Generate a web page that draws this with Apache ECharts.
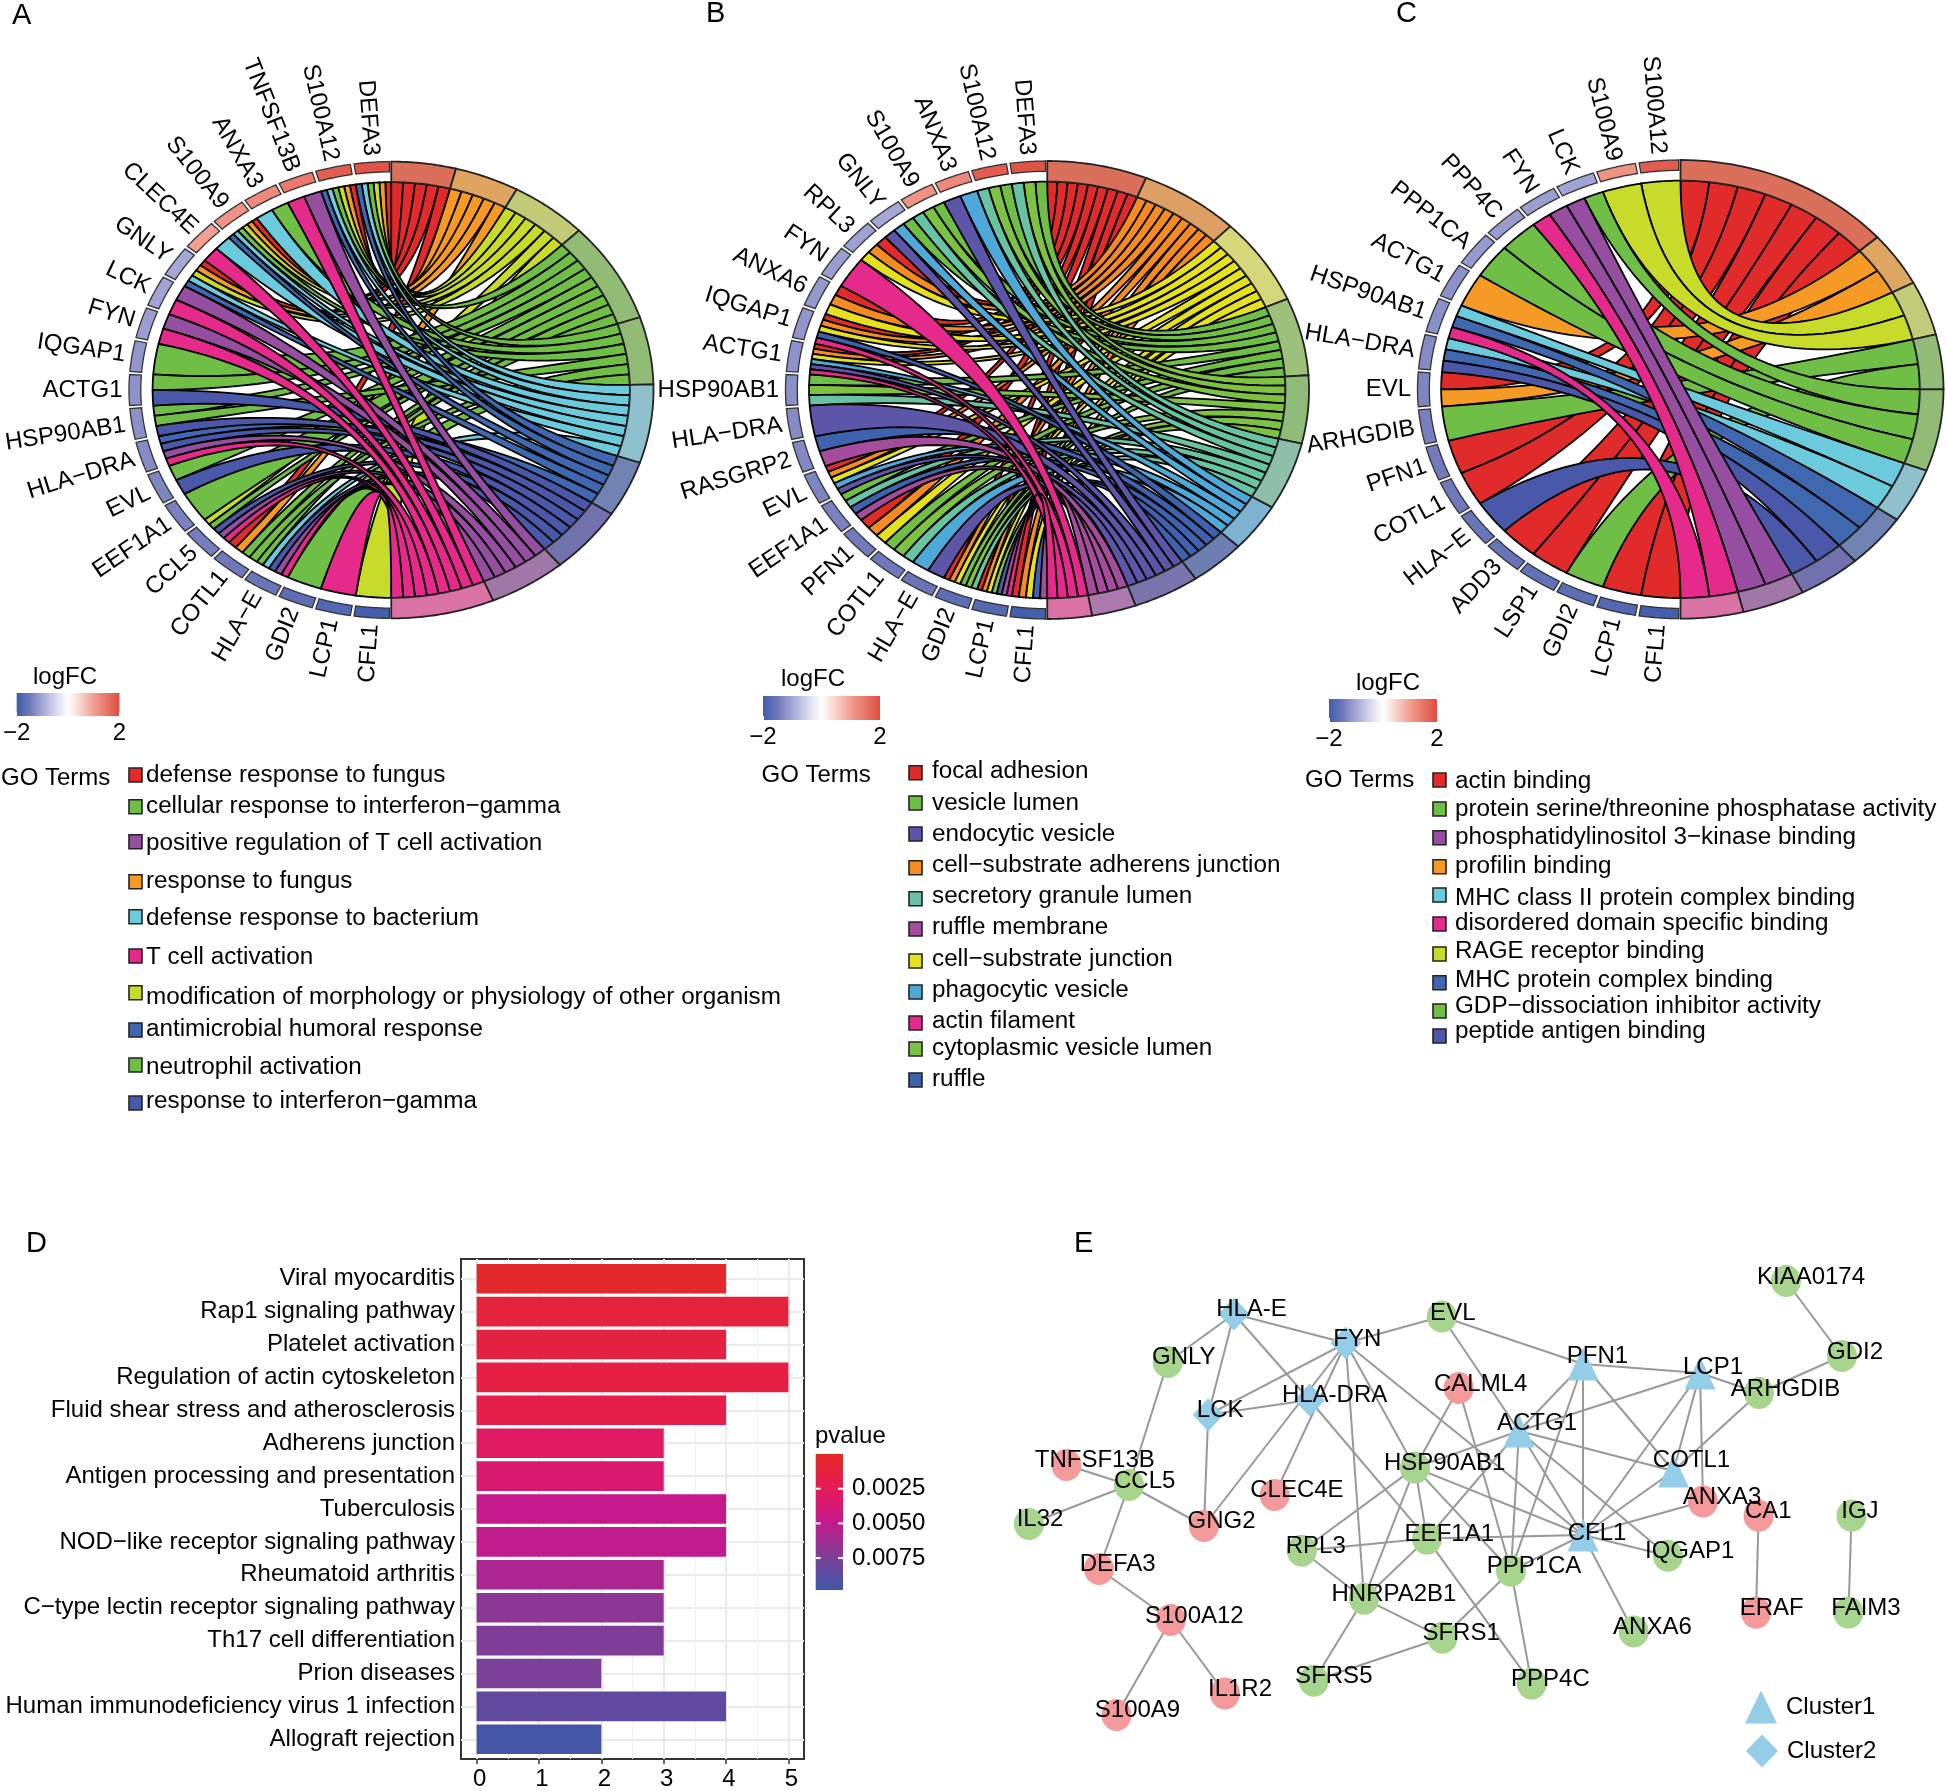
<!DOCTYPE html>
<html><head><meta charset="utf-8">
<style>html,body{margin:0;padding:0;background:#fff}#c{width:1946px;height:1791px}</style>
<script src="https://cdn.jsdelivr.net/npm/echarts@6/dist/echarts.min.js"></script>
</head><body><div id="c"></div>
<script>
const FONT = '"Liberation Sans", Arial, sans-serif';

// ---- gene expression (logFC) ----
const logFCNames = ['CFL1','LCP1','GDI2','LSP1','ADD3','HLA−E','COTL1','PFN1','CCL5','ARHGDIB','EEF1A1','EVL','RASGRP2','HLA−DRA','HSP90AB1','ACTG1','IQGAP1','ANXA6','PPP1CA','PPP4C','FYN','RPL3','LCK','GNLY','CLEC4E','S100A9','ANXA3','TNFSF13B','S100A12','DEFA3'];
const logFCValues = [-1.95,-1.78,-1.68,-1.62,-1.58,-1.55,-1.5,-1.47,-1.45,-1.42,-1.4,-1.35,-1.32,-1.3,-1.25,-1.22,-1.18,-1.16,-1.14,-1.12,-1.1,-1.06,-1.04,-1.0,1.0,1.15,1.25,1.45,1.8,1.9];

// ---- panel A ----
const genesA = ['CFL1','LCP1','GDI2','HLA−E','COTL1','CCL5','EEF1A1','EVL','HLA−DRA','HSP90AB1','ACTG1','IQGAP1','FYN','LCK','GNLY','CLEC4E','S100A9','ANXA3','TNFSF13B','S100A12','DEFA3'];
const codesA = 'ROYGNCBIPT';
const linksA = ['Y','T','N','TPICG','NGOR','TPIGY','G','IG','TPIB','ING','IG','G','TP','TP','CBYOR','TC','BCNYOR','CN','TP','BCGYOR','BCNYOR'];
const colorsA = ['#E12B2B','#F59A24','#C8DB2A','#6FBE46','#6FBE46','#6CCADD','#3F68B0','#4958A8','#964EA0','#E52A8B'];
const ringA   = ['#DB705A','#DEA460','#C2C977','#92BC76','#92BC76','#8FC0CE','#7183B2','#7172AD','#A177A8','#D972A5'];

// ---- panel B ----
const genesB = ['CFL1','LCP1','GDI2','HLA−E','COTL1','PFN1','EEF1A1','EVL','RASGRP2','HLA−DRA','HSP90AB1','ACTG1','IQGAP1','ANXA6','FYN','RPL3','GNLY','S100A9','ANXA3','S100A12','DEFA3'];
const codesB = 'abcdefghijk';
const linksB = ['jhcba','kjhecba','fedcba','ig','fed','cba','jhfd','igcba','jh','i','fed','kigcba','khcba','cba','k','cba','igd','fed','ig','fed','fed'];
const colorsB = ['#E12B2B','#F58B22','#E5E11F','#6FBE46','#7DC242','#68C3A3','#4FA9D8','#3F62AE','#5C55A8','#A64C9C','#E52A8B'];
const ringB   = ['#DB705A','#DD9F63','#D6D67A','#9DC07A','#8FBC78','#8EBFA8','#7DB2D0','#6D7FB0','#7A75AC','#AE79AE','#DA72A3'];

// ---- panel C ----
const genesC = ['CFL1','LCP1','GDI2','LSP1','ADD3','HLA−E','COTL1','PFN1','ARHGDIB','EVL','HLA−DRA','HSP90AB1','ACTG1','PPP1CA','PPP4C','FYN','LCK','S100A9','S100A12'];
const codesC = 'ROYGPCBIUT';
const linksC = ['R','R','G','R','R','I','R','R','G','OR','CBI','TCB','O','P','P','TU','UP','Y','Y'];
const colorsC = ['#E12B2B','#F59A24','#C8DB2A','#6FBE46','#6FBE46','#6CCADD','#3F68B0','#4958A8','#964EA0','#E52A8B'];
const ringC   = ['#DB705A','#DDA763','#C2CB77','#92BC76','#92BC76','#8FC0CE','#7183B2','#7172AD','#A177A8','#D972A5'];

// ---- legends of the chord panels ----
const legendA = ['defense response to fungus','cellular response to interferon−gamma','positive regulation of T cell activation','response to fungus','defense response to bacterium','T cell activation','modification of morphology or physiology of other organism','antimicrobial humoral response','neutrophil activation','response to interferon−gamma'];
const legendAColors = ['#E12B2B','#6FBE46','#964EA0','#F59A24','#6CCADD','#E52A8B','#C8DB2A','#3F68B0','#6FBE46','#4958A8'];
const legendB = ['focal adhesion','vesicle lumen','endocytic vesicle','cell−substrate adherens junction','secretory granule lumen','ruffle membrane','cell−substrate junction','phagocytic vesicle','actin filament','cytoplasmic vesicle lumen','ruffle'];
const legendBColors = ['#E12B2B','#6FBE46','#5C55A8','#F58B22','#68C3A3','#A64C9C','#E5E11F','#4FA9D8','#E52A8B','#7DC242','#3F62AE'];
const legendC = ['actin binding','protein serine/threonine phosphatase activity','phosphatidylinositol 3−kinase binding','profilin binding','MHC class II protein complex binding','disordered domain specific binding','RAGE receptor binding','MHC protein complex binding','GDP−dissociation inhibitor activity','peptide antigen binding'];
const legendCColors = ['#E12B2B','#6FBE46','#964EA0','#F59A24','#6CCADD','#E52A8B','#C8DB2A','#3F68B0','#6FBE46','#4958A8'];

// ---- panel D ----
const pathways = ['Viral myocarditis','Rap1 signaling pathway','Platelet activation','Regulation of actin cytoskeleton','Fluid shear stress and atherosclerosis','Adherens junction','Antigen processing and presentation','Tuberculosis','NOD−like receptor signaling pathway','Rheumatoid arthritis','C−type lectin receptor signaling pathway','Th17 cell differentiation','Prion diseases','Human immunodeficiency virus 1 infection','Allograft rejection'];
const pathwayCounts = [4,5,4,5,4,3,3,4,4,3,3,3,2,4,2];
const pathwayP = [0.0003,0.0012,0.0014,0.0016,0.0019,0.0030,0.0035,0.0048,0.0050,0.0058,0.0069,0.0073,0.0075,0.0085,0.0095];

// ---- panel E ----
const nodeNames = ['HLA-E','FYN','EVL','GNLY','LCK','HLA-DRA','CALML4','PFN1','LCP1','ARHGDIB','GDI2','KIAA0174','ACTG1','COTL1','HSP90AB1','TNFSF13B','CCL5','IL32','CLEC4E','GNG2','ANXA3','CA1','IGJ','CFL1','EEF1A1','RPL3','IQGAP1','PPP1CA','DEFA3','HNRPA2B1','S100A12','ERAF','FAIM3','SFRS1','ANXA6','SFRS5','PPP4C','IL1R2','S100A9'];
const nodeX = [234,345.8,441.8,167.8,208.2,309.6,458.7,583,700,759,842,786,519,673.5,415,66.4,129,29,274.6,204,703,758.6,851.5,583,427,301.8,668,511,99,364,170.8,756,848.5,442.4,633.7,313.8,531.7,225,116.5];
const nodeY = [94,123,96.5,142,194.8,180,168,144,153,173,136,61,211,251,247.6,245,265,304,275,306,281.5,295.7,295.7,315,318.6,330.7,335.8,350.7,349,378.7,400,392.6,392.6,417.7,411.5,460.7,463.6,473.4,495];
// 0 down-regulated, 1 up-regulated, 2 cluster 1, 3 cluster 2
const nodeGroup = [3,3,0,0,3,3,1,2,2,0,0,0,2,2,0,1,0,0,1,1,1,1,0,2,0,0,0,0,1,0,1,1,0,0,0,0,0,1,1];
const labelDx = [17.5,11.5,11,16,12,25,22,14.5,13,26.5,13,25,18,18,29.6,28.4,15.7,11,22.3,17.5,19,9.7,8.4,14,22.3,14,21.7,23,18.7,30,23.5,15.7,17.5,18.7,18.7,20,18.7,15,21];
const labelDy = [-4.7,-4,-3.6,-4.7,-4.7,-4.4,-3.6,-7.3,-5.5,-3.6,-4,-3.6,-8,-11,-4.4,-4.7,-4,-4.7,-4.4,-4.4,-4,-4.4,-4.4,-1.8,-4,-4,-4.4,-4,-4.4,-4.4,-4,-4,-4,-4.4,-4.4,-4.7,-4,-4.4,-4.4];
const edgeList = [['HLA-E','GNLY'],['HLA-E','LCK'],['HLA-E','FYN'],['HLA-E','HLA-DRA'],['HLA-DRA','EEF1A1'],['FYN','EVL'],['FYN','LCK'],['FYN','GNG2'],['FYN','CLEC4E'],['FYN','HSP90AB1'],['FYN','HNRPA2B1'],['FYN','CFL1'],['HLA-DRA','LCK'],['EVL','PFN1'],['EVL','ACTG1'],['GNLY','CCL5'],['LCK','GNG2'],['CALML4','HSP90AB1'],['CALML4','PPP1CA'],['PFN1','LCP1'],['PFN1','ACTG1'],['PFN1','CFL1'],['PFN1','COTL1'],['PFN1','PPP1CA'],['LCP1','ACTG1'],['LCP1','ARHGDIB'],['LCP1','COTL1'],['LCP1','CFL1'],['LCP1','ANXA3'],['ARHGDIB','GDI2'],['ARHGDIB','COTL1'],['GDI2','KIAA0174'],['ACTG1','HSP90AB1'],['ACTG1','COTL1'],['ACTG1','CFL1'],['ACTG1','PPP1CA'],['ACTG1','IQGAP1'],['ACTG1','EEF1A1'],['COTL1','CFL1'],['HSP90AB1','CFL1'],['HSP90AB1','EEF1A1'],['HSP90AB1','HNRPA2B1'],['HSP90AB1','RPL3'],['HSP90AB1','PPP1CA'],['CFL1','ANXA3'],['CFL1','IQGAP1'],['CFL1','EEF1A1'],['CFL1','PPP1CA'],['CFL1','ANXA6'],['RPL3','EEF1A1'],['RPL3','HNRPA2B1'],['EEF1A1','HNRPA2B1'],['EEF1A1','PPP4C'],['PPP1CA','SFRS1'],['PPP1CA','PPP4C'],['HNRPA2B1','SFRS1'],['HNRPA2B1','SFRS5'],['SFRS1','SFRS5'],['CCL5','TNFSF13B'],['CCL5','IL32'],['CCL5','GNG2'],['CCL5','DEFA3'],['DEFA3','S100A12'],['S100A12','S100A9'],['S100A12','IL1R2'],['CA1','ERAF'],['IGJ','FAIM3']];

// ---- colour helpers ----
const fcStops = [[-2,'#3F5DAB'],[-1.5,'#6E78BA'],[-1,'#A5A7D6'],[-0.25,'#ECECF6'],[0,'#FFFFFF'],[0.25,'#FCE9E4'],[1,'#F29F90'],[2,'#DE4C3F']];
function hex(c){return [1,3,5].map(i=>parseInt(c.substr(i,2),16));}
function fcColor(v){
  for(let i=1;i<fcStops.length;i++){
    if(v<=fcStops[i][0]){
      const a=fcStops[i-1],b=fcStops[i],t=(v-a[0])/(b[0]-a[0]),ca=hex(a[1]),cb=hex(b[1]);
      return 'rgb('+ca.map((x,j)=>Math.round(x+(cb[j]-x)*t)).join(',')+')';
    }
  }
  return fcStops[fcStops.length-1][1];
}
const rad=d=>d*Math.PI/180;
const pt=(r,deg)=>[r*Math.sin(rad(deg)),r*Math.cos(rad(deg))];

// ---- option containers ----
const grid=[],xAxis=[],yAxis=[],series=[],graphic=[];
function hiddenGrid(l,t,w,h,xr,yr,inv){
  grid.push({left:l,top:t,width:w,height:h,show:false});
  const i=grid.length-1;
  xAxis.push({gridIndex:i,type:'value',min:xr[0],max:xr[1],show:false});
  yAxis.push({gridIndex:i,type:'value',min:yr[0],max:yr[1],show:false,inverse:!!inv});
  return i;
}

// ---- chord panel ----
const R_IN=0.91,R_GENE=0.955;
function chord(g,genes,codes,links,colors,ring){
  const idx=hiddenGrid(g.left,g.top,g.w,g.h,[-1,1],[-1,1]);
  const n=genes.length;
  const counts=codes.split('').map(c=>links.filter(l=>l.includes(c)).length);
  const total=counts.reduce((a,b)=>a+b,0),unit=180/total;
  const termStart=[];let acc=0;
  counts.forEach(c=>{termStart.push(acc);acc+=c*unit;});
  const used=counts.map(()=>0),rib=[];
  for(let k=n-1;k>=0;k--){
    const geneW=180/n,gs=180+k*geneW,ls=links[k],m=ls.length;
    const order=ls.split('').sort((p,q)=>codes.indexOf(q)-codes.indexOf(p));
    order.forEach((c,j)=>{
      const ti=codes.indexOf(c),t0=termStart[ti]+used[ti]*unit;
      used[ti]++;
      rib.push([ti,gs+j*geneW/m,gs+(j+1)*geneW/m,t0,t0+unit]);
    });
  }
  rib.sort((a,b)=>a[0]-b[0]);
  const common={type:'custom',coordinateSystem:'cartesian2d',xAxisIndex:idx,yAxisIndex:idx,clip:false,silent:true,animation:false,encode:{x:[],y:[]}};
  series.push(Object.assign({},common,{name:'ribbons',data:rib,renderItem(p,api){
    const d=rib[p.dataIndex],pts=[],N=36;
    const arc=(a,b)=>{for(let i=0;i<=18;i++)pts.push(pt(R_IN,a+(b-a)*i/18));};
    const curve=(a,b)=>{const A=pt(R_IN,a),B=pt(R_IN,b);for(let i=1;i<N;i++){const u=i/N,w=(1-u)*(1-u),z=u*u;pts.push([w*A[0]+z*B[0],w*A[1]+z*B[1]]);}};
    arc(d[3],d[4]);curve(d[4],d[1]);arc(d[1],d[2]);curve(d[2],d[3]);
    return {type:'polygon',shape:{points:pts.map(q=>api.coord(q))},style:{fill:colors[d[0]],stroke:'#000',lineWidth:1.8,lineJoin:'round'}};
  }}));
  const band=(a,b,r0,r1,api)=>{const pts=[];for(let i=0;i<=30;i++)pts.push(api.coord(pt(r1,a+(b-a)*i/30)));for(let i=30;i>=0;i--)pts.push(api.coord(pt(r0,a+(b-a)*i/30)));return pts;};
  const termData=counts.map((c,i)=>[i,termStart[i],termStart[i]+c*unit]);
  series.push(Object.assign({},common,{name:'terms',data:termData,renderItem(p,api){
    const d=termData[p.dataIndex];
    return {type:'polygon',shape:{points:band(d[1],d[2],R_IN,1,api)},style:{fill:ring[d[0]],stroke:'#222',lineWidth:1.8}};
  }}));
  const geneData=genes.map((s,k)=>[k,180+k*180/n,180+(k+1)*180/n]);
  const fcOf=s=>logFCValues[logFCNames.indexOf(s)];
  series.push(Object.assign({},common,{name:'genes',data:geneData,renderItem(p,api){
    const d=geneData[p.dataIndex],gap=0.4;
    const th=(d[1]+d[2])/2,c=api.coord(pt(1,th)),off=6.5;
    const lx=c[0]+off*Math.sin(rad(th)),ly=c[1]-off*Math.cos(rad(th));
    return {type:'group',children:[
      {type:'polygon',shape:{points:band(d[1]+gap,d[2]-gap,R_GENE,1,api)},style:{fill:fcColor(fcOf(genes[d[0]])),stroke:'#333',lineWidth:1.3}},
      {type:'text',x:lx,y:ly,rotation:rad(270-th),style:{text:genes[d[0]],fill:'#000',font:'24px '+FONT,textAlign:'right',textVerticalAlign:'middle'}}
    ]};
  }}));
}
chord({left:129,top:161.6,w:524.5,h:456.8},genesA,codesA,linksA,colorsA,ringA);
chord({left:785.5,top:161,w:523.5,h:458},genesB,codesB,linksB,colorsB,ringB);
chord({left:1417.5,top:160,w:526,h:458.7},genesC,codesC,linksC,colorsC,ringC);

// ---- logFC colour bars ----
function fcBar(l,t,w,h){
  const i=grid.length;
  grid.push({left:l,top:t,width:w,height:h,show:false});
  xAxis.push({gridIndex:i,type:'value',min:-2,max:2,axisLine:{show:false},splitLine:{show:false},
    axisTick:{show:true,inside:true,length:4,customValues:[-2,2],lineStyle:{color:'#fff',width:1}},
    axisLabel:{customValues:[-2,2],margin:5,color:'#000',fontSize:24,fontFamily:FONT,formatter:v=>String(v).replace('-','−')}});
  yAxis.push({gridIndex:i,type:'value',min:0,max:1,show:false});
  const stops=fcStops.map(s=>({offset:(s[0]+2)/4,color:s[1]}));
  series.push({type:'custom',xAxisIndex:i,yAxisIndex:i,silent:true,animation:false,data:[[-2,2]],encode:{x:[0,1]},z:0,renderItem(p,api){
    const a=api.coord([-2,1]),b=api.coord([2,0]);
    return {type:'rect',shape:{x:a[0],y:a[1],width:b[0]-a[0],height:b[1]-a[1]},style:{fill:new echarts.graphic.LinearGradient(0,0,1,0,stops)}};
  }});
}
fcBar(9,693,110.5,23);
fcBar(763,696,117,24);
fcBar(1329,699,108,23);

// ---- text legends ----
function txt(x,y,s,size,align){graphic.push({type:'text',x:x,y:y,silent:true,style:{text:s,fill:'#000',font:size+'px '+FONT,textAlign:align||'left',textVerticalAlign:'middle'}});}
function goLegend(names,cols,swX,swY,txX,txY,goX,goY,logX,logY){
  txt(logX,logY,'logFC',24,'center');
  txt(goX,goY,'GO Terms',24);
  names.forEach((s,i)=>{
    graphic.push({type:'rect',silent:true,shape:{x:swX+1,y:swY[i]-7,width:13,height:14},style:{fill:cols[i],stroke:'#222',lineWidth:1.6}});
    txt(txX,txY[i],s,24.25);
  });
}
goLegend(legendA,legendAColors,128,[775,806.7,841.7,881.7,916.7,956,992.7,1030,1065,1103],146,[775,806.7,843,881.7,918,957.7,997,1029,1067.7,1101],1,778,65,677);
goLegend(legendB,legendBColors,908,[772.7,803,834,867.7,898.7,929,961,992,1023,1049,1080],932,[771.7,803,834,865,896,927,959,990.7,1021.7,1048,1079],761.5,775,813,679);
goLegend(legendC,legendCColors,1432,[780,809,837.7,866.7,895,924,954,982.7,1011,1036],1455,[781,809,837.7,866.7,898,923,951.7,980,1006,1031],1305,780,1388,683);
[['A',12,16],['B',706,14],['C',1396,14],['D',26,1244],['E',1074,1244]].forEach(a=>txt(a[1],a[2],a[0],29));

// ---- panel D ----
const gridLine={color:'#EBEBEB',width:2},gridMinor={color:'#F1F1F1',width:1};
const dOuter=grid.length;
grid.push({left:461,top:1259,width:343,height:500,show:true,borderColor:'#333',borderWidth:2,backgroundColor:'transparent'});
xAxis.push({gridIndex:dOuter,type:'value',min:-0.25,max:5.25,
  axisLine:{show:false},axisTick:{length:5,customValues:[0,1,2,3,4,5],lineStyle:{color:'#333',width:1.5}},
  axisLabel:{customValues:[0,1,2,3,4,5],margin:8,padding:[0,0,0,6],color:'#000',fontSize:24,fontFamily:FONT},
  splitLine:{show:true,lineStyle:gridLine}});
yAxis.push({gridIndex:dOuter,type:'value',min:0,max:1,show:false});
const dMinor=grid.length;
grid.push({left:461,top:1259,width:343,height:500,show:false});
xAxis.push({gridIndex:dMinor,type:'value',min:-0.25,max:5.25,axisLine:{show:false},
  axisTick:{show:false,customValues:[0.5,1.5,2.5,3.5,4.5]},axisLabel:{show:false,customValues:[0.5,1.5,2.5,3.5,4.5]},
  splitLine:{show:true,lineStyle:gridMinor}});
yAxis.push({gridIndex:dMinor,type:'value',min:0,max:1,show:false});
const dInner=grid.length;
grid.push({left:461,top:1262.3,width:343,height:493.4,show:false});
xAxis.push({gridIndex:dInner,type:'value',min:-0.25,max:5.25,show:false});
yAxis.push({gridIndex:dInner,type:'category',inverse:true,data:pathways,
  axisLine:{show:false},axisTick:{length:5,alignWithLabel:true,lineStyle:{color:'#333',width:1.5}},
  axisLabel:{margin:6,color:'#000',fontSize:24,fontFamily:FONT,interval:0},
  splitLine:{show:true,alignWithLabel:true,interval:0,lineStyle:gridLine}});
const barIdx=series.length;
series.push({type:'bar',name:'pathways',xAxisIndex:dInner,yAxisIndex:dInner,barWidth:'90%',silent:true,animation:false,
  encode:{x:0,y:1},data:pathways.map((s,i)=>[pathwayCounts[i],s,pathwayP[i]])});
const pColors=['#E32B26','#E71A55','#C4188C','#7F3E97','#3C58A8'];
// p-value colour bar
const pb=grid.length;
grid.push({left:815.7,top:1454,width:27.3,height:136,show:false});
xAxis.push({gridIndex:pb,type:'value',min:0,max:1,show:false});
yAxis.push({gridIndex:pb,type:'value',inverse:true,min:0,max:0.0098,position:'right',axisLine:{show:false},splitLine:{show:false},
  axisTick:{show:false,customValues:[0.0025,0.005,0.0075]},
  axisLabel:{customValues:[0.0025,0.005,0.0075],margin:9,color:'#000',fontSize:24,fontFamily:FONT,formatter:v=>v.toFixed(4)}});
series.push({type:'custom',xAxisIndex:pb,yAxisIndex:pb,silent:true,animation:false,data:[[0,1]],encode:{x:[0,1]},renderItem(p,api){
  const a=api.coord([0,0]),b=api.coord([1,0.0098]);
  const ch=[{type:'rect',shape:{x:a[0],y:a[1],width:b[0]-a[0],height:b[1]-a[1]},style:{fill:new echarts.graphic.LinearGradient(0,0,0,1,pColors.map((c,i)=>({offset:i/4,color:c})))}}];
  [0.0025,0.005,0.0075].forEach(v=>{const y=api.coord([0,v])[1];
    ch.push({type:'rect',shape:{x:a[0],y:y-1,width:5,height:2},style:{fill:'#fff'}});
    ch.push({type:'rect',shape:{x:b[0]-5,y:y-1,width:5,height:2},style:{fill:'#fff'}});});
  return {type:'group',children:ch};
}});
txt(815,1436,'pvalue',24);

// ---- panel E ----
const eg=hiddenGrid(1000,1220,946,571,[0,946],[0,571],true);
const groupColor=['#A8D58D','#F59A9A','#94CDE8','#94CDE8'];
const groupSymbol=['circle','circle','triangle','diamond'];
const groupSize=[[30,32],[30,32],[31,33],[31,33]];
series.push({type:'graph',layout:'none',coordinateSystem:'cartesian2d',xAxisIndex:eg,yAxisIndex:eg,silent:true,animation:false,
  data:nodeNames.map((s,i)=>({name:s,value:[nodeX[i],nodeY[i]],symbol:groupSymbol[nodeGroup[i]],symbolSize:groupSize[nodeGroup[i]],
    itemStyle:{color:groupColor[nodeGroup[i]]},label:{offset:[labelDx[i],labelDy[i]]}})),
  links:edgeList.map(e=>({source:e[0],target:e[1]})),
  lineStyle:{color:'#999',width:2,opacity:1,curveness:0},
  label:{show:true,position:'inside',color:'#000',fontSize:24,fontFamily:FONT,formatter:'{b}'}
});
const clusterNames=['Cluster1','Cluster2'],clusterX=[761,762],clusterY=[487,531],clusterSymbol=['triangle','diamond'];
series.push({type:'scatter',xAxisIndex:eg,yAxisIndex:eg,silent:true,animation:false,
  data:clusterNames.map((s,i)=>({name:s,value:[clusterX[i],clusterY[i]],symbol:clusterSymbol[i]})),
  symbolSize:[32,33],itemStyle:{color:'#94CDE8',opacity:1},
  label:{show:true,position:'right',distance:9,color:'#000',fontSize:24,fontFamily:FONT,formatter:'{b}'}});

const chart=echarts.init(document.getElementById('c'),null,{renderer:'canvas'});
chart.setOption({animation:false,backgroundColor:'#fff',textStyle:{fontFamily:FONT},grid,xAxis,yAxis,series,graphic,
  visualMap:[{show:false,type:'continuous',seriesIndex:barIdx,dimension:2,min:0,max:0.0098,inRange:{color:pColors}}]});
</script></body></html>
